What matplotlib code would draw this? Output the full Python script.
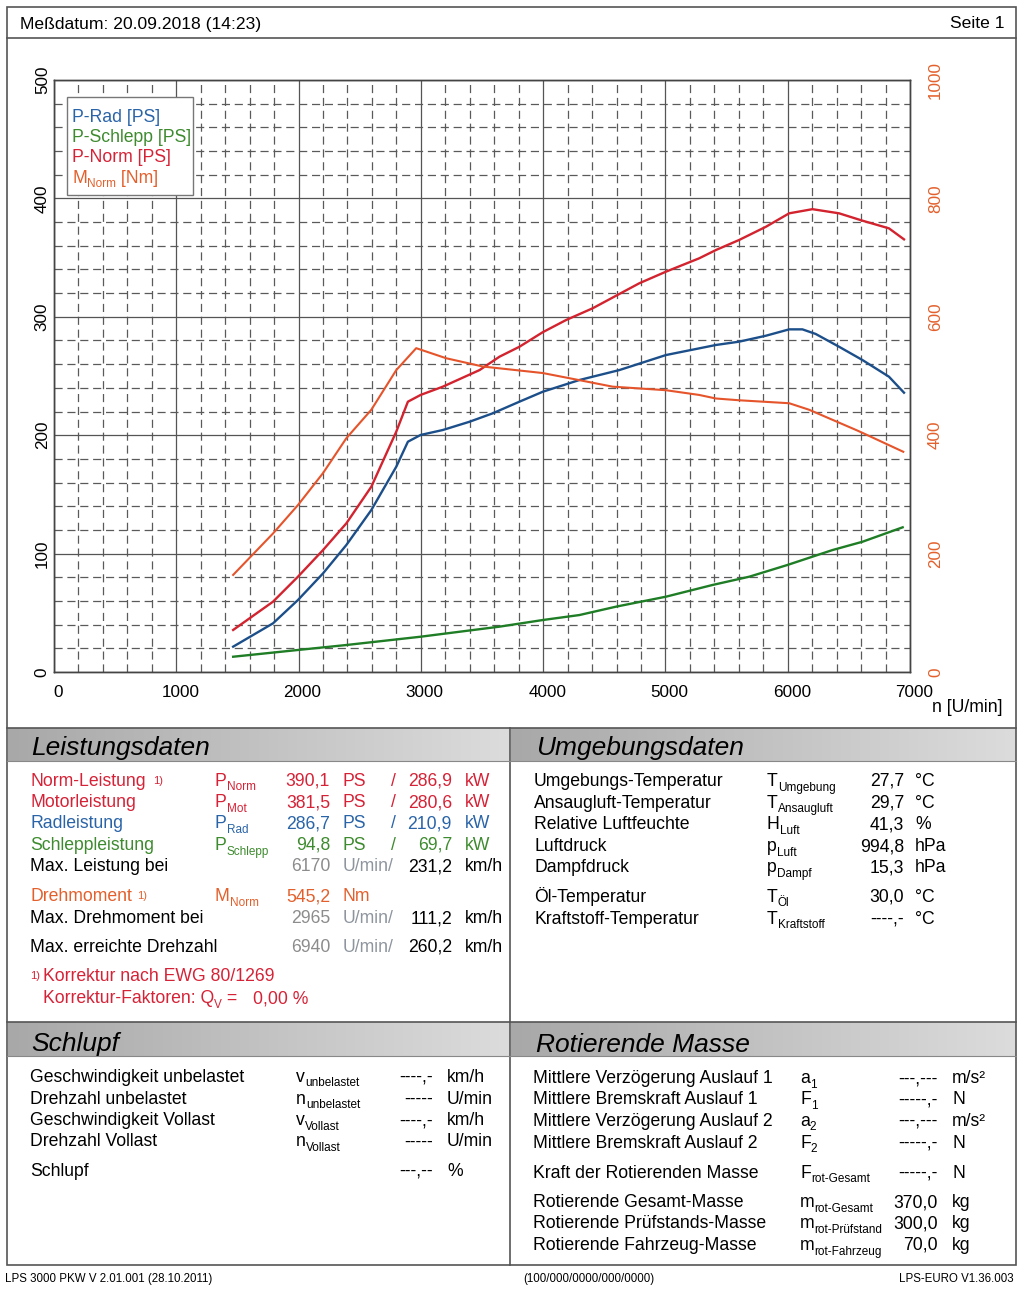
import numpy as np
import matplotlib
matplotlib.use('Agg')
import matplotlib.pyplot as plt
from matplotlib.patches import Rectangle
from matplotlib.ticker import MultipleLocator
from matplotlib.colors import LinearSegmentedColormap
import matplotlib.transforms as mtransforms

plt.rcParams['font.family'] = ['Liberation Sans', 'DejaVu Sans']

# ---------------- data ----------------
rpm_rad = [1465, 1791, 1995, 2200, 2391, 2595, 2799, 2894, 2998, 3180, 3399, 3588, 3806,
           3997, 4296, 4623, 5004, 5413, 5603, 5821, 6012, 6120, 6229, 6420, 6611, 6828, 6951]
ps_rad = [21.4, 41.1, 60.8, 83.3, 107.3, 136.8, 173.4, 194.5, 200.2, 204.4, 211.4, 218.5, 228.3,
          236.7, 246.6, 255.0, 267.7, 276.2, 279.0, 284.0, 289.4, 289.4, 285.5, 274.7, 263.5, 249.4, 235.9]

rpm_norm = [1465, 1791, 1995, 2200, 2391, 2595, 2799, 2894, 2998, 3180, 3480, 3643, 3806, 3997,
            4188, 4405, 4786, 5004, 5276, 5413, 5603, 5821, 6012, 6202, 6420, 6611, 6828, 6951]
ps_norm = [35.5, 59.4, 80.5, 103.0, 125.6, 156.5, 203.0, 228.3, 234.0, 241.0, 255.0, 266.3, 274.7, 287.0,
           297.3, 307.2, 328.3, 338.1, 349.4, 356.4, 364.9, 376.0, 387.4, 390.9, 387.4, 381.2, 374.7, 365.4]

rpm_schlepp = [1465, 1995, 2391, 2998, 3643, 3997, 4296, 4597, 5004, 5385, 5686, 5998, 6366, 6611, 6940]
ps_schlepp = [12.9, 18.6, 22.8, 29.8, 38.3, 43.9, 48.1, 55.2, 63.6, 73.5, 80.5, 90.4, 103.0, 110.0, 122.2]

rpm_moment = [1465, 1791, 1995, 2200, 2391, 2595, 2799, 2962, 3207, 3507, 3997, 4296, 4568, 5004,
              5276, 5413, 5603, 6012, 6175, 6366, 6557, 6611, 6945]
nm_moment = [164, 234, 282, 336, 395, 443, 510, 547, 530, 516, 505, 493, 482, 476,
             468, 462, 459, 454, 443, 426, 409, 404, 372]

x_ticks = [0, 1000, 2000, 3000, 4000, 5000, 6000, 7000]
y_ticks_ps = [0, 100, 200, 300, 400, 500]
y_ticks_nm = [0, 200, 400, 600, 800, 1000]

legend_labels = ['P-Rad [PS]', 'P-Schlepp [PS]', 'P-Norm [PS]']

leist_labels = ['Norm-Leistung', 'Motorleistung', 'Radleistung', 'Schleppleistung']
leist_subs = ['Norm', 'Mot', 'Rad', 'Schlepp']
leist_ps = ['390,1', '381,5', '286,7', '94,8']
leist_kw = ['286,9', '280,6', '210,9', '69,7']

drehz_labels = ['Max. Leistung bei', 'Max. Drehmoment bei', 'Max. erreichte Drehzahl']
drehz_rpm = ['6170', '2965', '6940']
drehz_kmh = ['231,2', '111,2', '260,2']

umg_labels = ['Umgebungs-Temperatur', 'Ansaugluft-Temperatur', 'Relative Luftfeuchte', 'Luftdruck',
              'Dampfdruck', 'Öl-Temperatur', 'Kraftstoff-Temperatur']
umg_sym = ['T', 'T', 'H', 'p', 'p', 'T', 'T']
umg_sub = ['Umgebung', 'Ansaugluft', 'Luft', 'Luft', 'Dampf', 'Öl', 'Kraftstoff']
umg_val = ['27,7', '29,7', '41,3', '994,8', '15,3', '30,0', '----,-']
umg_unit = ['°C', '°C', '%', 'hPa', 'hPa', '°C', '°C']

sch_labels = ['Geschwindigkeit unbelastet', 'Drehzahl unbelastet', 'Geschwindigkeit Vollast',
              'Drehzahl Vollast', 'Schlupf']
sch_sym = ['v', 'n', 'v', 'n', '']
sch_sub = ['unbelastet', 'unbelastet', 'Vollast', 'Vollast', '']
sch_val = ['----,-', '-----', '----,-', '-----', '---,--']
sch_unit = ['km/h', 'U/min', 'km/h', 'U/min', '%']

rot_labels = ['Mittlere Verzögerung Auslauf 1', 'Mittlere Bremskraft Auslauf 1',
              'Mittlere Verzögerung Auslauf 2', 'Mittlere Bremskraft Auslauf 2',
              'Kraft der Rotierenden Masse', 'Rotierende Gesamt-Masse',
              'Rotierende Prüfstands-Masse', 'Rotierende Fahrzeug-Masse']
rot_sym = ['a', 'F', 'a', 'F', 'F', 'm', 'm', 'm']
rot_sub = ['1', '1', '2', '2', 'rot-Gesamt', 'rot-Gesamt', 'rot-Prüfstand', 'rot-Fahrzeug']
rot_val = ['---,---', '-----,-', '---,---', '-----,-', '-----,-', '370,0', '300,0', '70,0']
rot_unit = ['m/s²', 'N', 'm/s²', 'N', 'N', 'kg', 'kg', 'kg']

# ---------------- styling ----------------
C_BLUE = '#1c4f8a'
C_RED = '#d2232f'
C_ORANGE = '#e5542b'
C_GREEN = '#1f7d26'
T_RED = '#d62236'
T_BLUE = '#2a64a8'
T_GREEN = '#3d8b2e'
T_ORANGE = '#e3602c'
T_GRAY = '#8c8c8c'
FS = 12.7
TICKFS = 12.3
SUBFS = 8.5

W, H = 1024, 1291
fig = plt.figure(figsize=(W / 100, H / 100), dpi=100)
fig.patch.set_facecolor('white')

bg = fig.add_axes([0, 0, 1, 1])
bg.axis('off')
bg.set_autoscale_on(False)
bg.set_xlim(0, W)
bg.set_ylim(H, 0)

# chart axes
L, R, T, B = 54, 910, 80, 672
ax = fig.add_axes([L / W, 1 - B / H, (R - L) / W, (B - T) / H])
ax.set_xlim(0, 7000)
ax.set_ylim(0, 500)
ax.xaxis.set_major_locator(MultipleLocator(1000))
ax.xaxis.set_minor_locator(MultipleLocator(200))
ax.yaxis.set_major_locator(MultipleLocator(100))
ax.yaxis.set_minor_locator(MultipleLocator(20))
ax.grid(which='major', color='#555555', lw=0.9, ls='-')
ax.grid(which='minor', color='#5a5a5a', lw=0.9, ls=(0, (6.5, 3.8)))
ax.set_axisbelow(True)
for sp in ax.spines.values():
    sp.set_color('#444444')
    sp.set_linewidth(1.0)
ax.set_xticks(x_ticks)
ax.set_xticklabels([str(v) for v in x_ticks])
ax.set_yticks(y_ticks_ps)
ax.set_yticklabels([str(v) for v in y_ticks_ps], rotation=90, va='center')
ax.tick_params(axis='both', which='both', length=0)
ax.tick_params(axis='x', pad=9.5, labelsize=TICKFS)
ax.tick_params(axis='y', pad=3, labelsize=TICKFS)
off = mtransforms.ScaledTranslation(4 / 100, 0, fig.dpi_scale_trans)
for lbl in ax.get_xticklabels():
    lbl.set_transform(lbl.get_transform() + off)

ax.plot(rpm_schlepp, ps_schlepp, color=C_GREEN, lw=1.7, solid_joinstyle='round', zorder=3)
ax.plot(rpm_rad, ps_rad, color=C_BLUE, lw=1.7, solid_joinstyle='round', zorder=3)
ax.plot(rpm_norm, ps_norm, color=C_RED, lw=1.7, solid_joinstyle='round', zorder=3)

ax2 = ax.twinx()
ax2.set_ylim(0, 1000)
ax2.set_yticks(y_ticks_nm)
ax2.set_yticklabels([str(v) for v in y_ticks_nm], rotation=90, va='center', color=T_ORANGE)
ax2.tick_params(axis='y', length=0, pad=13, labelsize=TICKFS)
for sp in ax2.spines.values():
    sp.set_color('#444444')
    sp.set_linewidth(1.0)
ax2.plot(rpm_moment, nm_moment, color=C_ORANGE, lw=1.5, solid_joinstyle='round', zorder=3)

# overlay axes for legend
ov = fig.add_axes([0, 0, 1, 1])
ov.axis('off')
ov.set_autoscale_on(False)
ov.set_xlim(0, W)
ov.set_ylim(H, 0)
ov.patch.set_alpha(0)

renderer = fig.canvas.get_renderer()


def txt(axx, x, y, s, color='black', size=FS, **kw):
    return axx.text(x, y, s, color=color, fontsize=size, va='baseline', **kw)


def sym(axx, x, y, base, sub, color='black', size=FS, subsize=SUBFS, drop=4.5, after=None):
    t = txt(axx, x, y, base, color, size)
    x1 = t.get_window_extent(renderer).x1
    s = txt(axx, x1, y + drop, sub, color, subsize)
    if after is not None:
        x2 = s.get_window_extent(renderer).x1
        txt(axx, x2, y, after, color, size)


# legend
ov.add_patch(Rectangle((67, 96.5), 126, 98, facecolor='white', edgecolor='#777777', lw=1.0, zorder=5))
leg_cols = [T_BLUE, T_GREEN, T_RED]
for i, (lab, col) in enumerate(zip(legend_labels, leg_cols)):
    txt(ov, 72, 121.5 + 20.5 * i, lab, col)
sym(ov, 72, 183, 'M', 'Norm', T_ORANGE, drop=4, after=' [Nm]')
for t in ov.texts:
    t.set_zorder(6)

# ---------------- page frame ----------------
LC = '#555555'
bg.add_patch(Rectangle((7, 7), 1009, 1258, facecolor='none', edgecolor=LC, lw=1.2))
for y in [38, 728, 1022]:
    bg.plot([7, 1016], [y, y], color=LC, lw=1.2)
bg.plot([510, 510], [728, 1265], color=LC, lw=1.2)

gcmap = LinearSegmentedColormap.from_list('g', ['#a8a8a8', '#dcdcdc'])
grad = np.linspace(0, 1, 256).reshape(1, -1)
for (x0, x1) in [(7, 510), (510, 1016)]:
    for (y0, y1) in [(728, 761), (1022, 1056)]:
        bg.imshow(grad, extent=(x0 + 0.8, x1 - 0.8, y1, y0 + 0.8), cmap=gcmap, aspect='auto',
                  vmin=0, vmax=1, zorder=0.5, interpolation='bilinear')
        bg.plot([x0, x1], [y1, y1], color='#888888', lw=0.8)

txt(bg, 20, 28.5, 'Meßdatum: 20.09.2018 (14:23)', size=12.6)
txt(bg, 1004, 28.5, 'Seite 1', size=12.6, ha='right')

txt(ov, 1003, 712, 'n [U/min]', ha='right')

HFS = 19
txt(bg, 31, 755.5, 'Leistungsdaten', size=HFS, style='italic')
txt(bg, 536, 755.5, 'Umgebungsdaten', size=HFS, style='italic')
txt(bg, 31, 1051, 'Schlupf', size=HFS, style='italic')
txt(bg, 536, 1051.5, 'Rotierende Masse', size=HFS, style='italic')

# ---------------- Leistungsdaten ----------------
leist_cols = [T_RED, T_RED, T_BLUE, T_GREEN]
leist_base = [786, 807, 828.5, 850]
for lab, sub, ps, kw, c, yb in zip(leist_labels, leist_subs, leist_ps, leist_kw, leist_cols, leist_base):
    txt(bg, 30, yb, lab, c)
    sym(bg, 215, yb, 'P', sub, c)
    txt(bg, 330, yb, ps, c, ha='right')
    txt(bg, 343, yb, 'PS', c)
    txt(bg, 393, yb, '/', c, ha='center')
    txt(bg, 452, yb, kw, c, ha='right')
    txt(bg, 465, yb, 'kW', c)
txt(bg, 153, 784, '1)', T_RED, size=8)

drehz_base = [871, 923, 952]
for lab, n, v, yb in zip(drehz_labels, drehz_rpm, drehz_kmh, drehz_base):
    txt(bg, 30, yb, lab)
    txt(bg, 330, yb, n, T_GRAY, ha='right')
    txt(bg, 343, yb, 'U/min/', '#8e959e')
    txt(bg, 452, yb, v, ha='right')
    txt(bg, 465, yb, 'km/h')

txt(bg, 30, 901, 'Drehmoment', T_ORANGE)
txt(bg, 137, 899, '1)', T_ORANGE, size=8)
sym(bg, 215, 901, 'M', 'Norm', T_ORANGE)
txt(bg, 330, 901, '545,2', T_ORANGE, ha='right')
txt(bg, 343, 901, 'Nm', T_ORANGE)

txt(bg, 30, 979, '1)', T_RED, size=8)
txt(bg, 43, 981, 'Korrektur nach EWG 80/1269', T_RED)
sym(bg, 43, 1003, 'Korrektur-Faktoren: Q', 'V', T_RED, after=' =')
txt(bg, 253, 1003, '0,00 %', T_RED)

# ---------------- Umgebungsdaten ----------------
umg_base = [786, 807.5, 829, 851, 872.5, 902, 924]
for lab, s, sb, v, u, yb in zip(umg_labels, umg_sym, umg_sub, umg_val, umg_unit, umg_base):
    txt(bg, 534, yb, lab)
    sym(bg, 767, yb, s, sb)
    txt(bg, 904, yb, v, ha='right')
    txt(bg, 915, yb, u)

# ---------------- Schlupf ----------------
sch_base = [1082, 1103.5, 1125, 1146.5, 1176]
for lab, s, sb, v, u, yb in zip(sch_labels, sch_sym, sch_sub, sch_val, sch_unit, sch_base):
    txt(bg, 30, yb, lab)
    if s:
        sym(bg, 296, yb, s, sb)
    txt(bg, 433, yb, v, ha='right')
    txt(bg, 447, yb, u)

# ---------------- Rotierende Masse ----------------
rot_base = [1083, 1104.5, 1126, 1147.5, 1178, 1207, 1228.5, 1250]
for lab, s, sb, v, u, yb in zip(rot_labels, rot_sym, rot_sub, rot_val, rot_unit, rot_base):
    txt(bg, 533, yb, lab)
    sym(bg, 800, yb, s, sb)
    txt(bg, 938, yb, v, ha='right')
    txt(bg, 952, yb, u)

# ---------------- footer ----------------
txt(bg, 5, 1282, 'LPS 3000 PKW V 2.01.001 (28.10.2011)', size=8.3)
txt(bg, 523, 1282, '(100/000/0000/000/0000)', size=8.3)
txt(bg, 1014, 1282, 'LPS-EURO V1.36.003', size=8.3, ha='right')

bg.set_xlim(0, W)
bg.set_ylim(H, 0)
ov.set_xlim(0, W)
ov.set_ylim(H, 0)

fig.savefig('out.png', dpi=100, facecolor='white')
